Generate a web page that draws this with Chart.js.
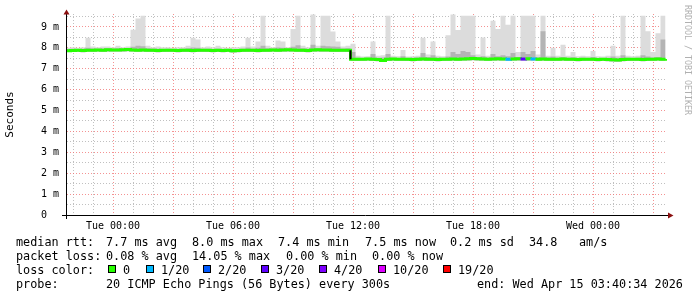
<!DOCTYPE html>
<html lang="en">
<head>
<meta charset="UTF-8">
<title>SmokePing latency</title>
<script src="https://cdn.jsdelivr.net/npm/chart.js@4"></script>
<style>
  body { margin: 0; background: #fff; }
  #wrap { position: relative; width: 697px; height: 297px; font-family: 'DejaVu Sans Mono', monospace; overflow: hidden; }
  #wrap canvas { position: absolute; left: 0; top: 0; }
  .txt { position: absolute; font-size: 11.8px; line-height: 14px; white-space: pre; color: #000; }
  .sq { position: absolute; width: 8px; height: 8px; box-sizing: border-box; border: 1px solid #000; }
  #credit { position: absolute; left: 683px; top: 5px; writing-mode: vertical-rl; font-size: 8.3px; line-height: 10px; color: #b0b0b0; white-space: pre; }
</style>
</head>
<body>
<div id="wrap">
  <canvas id="chart" width="697" height="297"></canvas>
  <div id="credit">RRDTOOL / TOBI OETIKER</div>
</div>

<script>
  // sample times, hours relative to Tue 00:00 (one value every 15 min,
  // each value covers the 15 min that follow its time stamp)
  const times = [];
  for (let i = 0; i < 121; i++) times.push(-2.375 + i * 0.25);

  // median rtt in ms
  const median = [
    7.86, 7.87, 7.88, 7.87, 7.89, 7.88, 7.90, 7.89, 7.91, 7.90,
    7.90, 7.91, 7.92, 7.90, 7.89, 7.90, 7.89, 7.88, 7.87, 7.88,
    7.89, 7.88, 7.87, 7.88, 7.88, 7.87, 7.88, 7.89, 7.88, 7.87,
    7.88, 7.87, 7.88, 7.86, 7.87, 7.88, 7.89, 7.88, 7.87, 7.88,
    7.89, 7.90, 7.89, 7.90, 7.91, 7.90, 7.89, 7.88, 7.87, 7.90,
    7.91, 7.90, 7.90, 7.89, 7.88, 7.89, 7.88, 7.46, 7.45, 7.46,
    7.47, 7.45, 7.44, 7.40, 7.45, 7.47, 7.46, 7.46, 7.45, 7.44,
    7.46, 7.47, 7.46, 7.45, 7.44, 7.45, 7.46, 7.47, 7.46, 7.47,
    7.48, 7.49, 7.48, 7.47, 7.46, 7.47, 7.48, 7.47, 7.46, 7.47,
    7.48, 7.47, 7.48, 7.47, 7.46, 7.47, 7.46, 7.45, 7.46, 7.47,
    7.46, 7.45, 7.44, 7.45, 7.46, 7.45, 7.44, 7.45, 7.44, 7.43,
    7.42, 7.44, 7.45, 7.46, 7.45, 7.44, 7.45, 7.46, 7.47, 7.46,
    7.47
  ];

  // smoke: lowest ping, inner (dark) band top, highest ping
  const smokeLo = [
    7.80, 7.81, 7.80, 7.79, 7.82, 7.81, 7.82, 7.81, 7.83, 7.82,
    7.82, 7.83, 7.84, 7.82, 7.81, 7.82, 7.81, 7.80, 7.79, 7.80,
    7.81, 7.80, 7.79, 7.80, 7.80, 7.79, 7.80, 7.81, 7.80, 7.79,
    7.80, 7.79, 7.80, 7.78, 7.79, 7.80, 7.81, 7.80, 7.79, 7.80,
    7.81, 7.82, 7.81, 7.82, 7.83, 7.82, 7.81, 7.80, 7.79, 7.82,
    7.83, 7.82, 7.82, 7.81, 7.80, 7.81, 7.80, 7.38, 7.37, 7.38,
    7.39, 7.37, 7.36, 7.32, 7.37, 7.39, 7.38, 7.38, 7.37, 7.36,
    7.38, 7.39, 7.38, 7.37, 7.36, 7.37, 7.38, 7.39, 7.38, 7.39,
    7.40, 7.41, 7.40, 7.39, 7.38, 7.39, 7.40, 7.39, 7.38, 7.39,
    7.40, 7.39, 7.40, 7.39, 7.38, 7.39, 7.38, 7.37, 7.38, 7.39,
    7.38, 7.37, 7.36, 7.37, 7.38, 7.37, 7.36, 7.37, 7.36, 7.35,
    7.34, 7.36, 7.37, 7.38, 7.37, 7.36, 7.37, 7.38, 7.39, 7.38,
    7.39
  ];
  const smokeMid = [
    7.95, 7.96, 7.95, 7.96, 8.00, 7.97, 7.96, 7.97, 7.98, 7.97,
    7.98, 7.97, 7.98, 8.05, 8.10, 8.08, 7.98, 7.97, 7.96, 7.95,
    7.96, 7.95, 7.95, 7.96, 7.98, 8.02, 8.00, 7.96, 7.96, 7.95,
    7.96, 7.95, 7.95, 7.94, 7.95, 7.96, 8.02, 7.96, 8.00, 8.10,
    7.98, 7.97, 8.02, 8.00, 7.97, 8.05, 8.12, 7.98, 7.96, 8.15,
    7.98, 8.10, 8.08, 8.06, 8.05, 7.97, 7.98, 7.80, 7.53, 7.52,
    7.53, 7.70, 7.53, 7.54, 7.70, 7.53, 7.52, 7.60, 7.52, 7.53,
    7.54, 7.75, 7.56, 7.65, 7.54, 7.53, 7.58, 7.80, 7.70, 7.85,
    7.80, 7.65, 7.56, 7.60, 7.54, 7.70, 7.60, 7.65, 7.60, 7.75,
    7.56, 7.80, 7.70, 7.85, 7.55, 8.80, 7.54, 7.58, 7.53, 7.56,
    7.53, 7.55, 7.52, 7.53, 7.52, 7.56, 7.52, 7.51, 7.53, 7.58,
    7.53, 7.65, 7.53, 7.52, 7.53, 7.65, 7.58, 7.54, 7.56, 8.40,
    7.53
  ];
  const smokeHi = [
    8.00, 8.03, 8.00, 8.03, 8.48, 8.06, 8.03, 8.06, 8.06, 8.03,
    8.10, 8.03, 8.06, 8.87, 9.40, 9.54, 8.10, 8.03, 8.06, 8.03,
    8.03, 8.00, 8.03, 8.03, 8.10, 8.48, 8.40, 8.03, 8.06, 8.03,
    8.10, 8.03, 8.00, 8.03, 8.03, 8.06, 8.48, 8.06, 8.30, 9.54,
    8.10, 8.03, 8.35, 8.30, 8.03, 8.90, 9.54, 8.10, 8.03, 9.60,
    8.10, 9.54, 9.54, 8.78, 8.30, 8.06, 8.10, 8.20, 7.62, 7.58,
    7.60, 8.30, 7.62, 7.65, 9.54, 7.62, 7.60, 7.90, 7.58, 7.60,
    7.62, 8.48, 7.68, 8.30, 7.62, 7.60, 8.60, 9.60, 8.85, 9.54,
    9.54, 9.54, 7.68, 8.50, 7.62, 9.30, 8.90, 9.54, 9.10, 9.54,
    7.80, 9.54, 9.54, 9.54, 7.68, 9.54, 7.62, 8.00, 7.62, 8.15,
    7.62, 7.80, 7.60, 7.62, 7.60, 7.85, 7.60, 7.58, 7.62, 8.10,
    7.62, 9.54, 7.62, 7.60, 7.62, 9.54, 8.80, 7.80, 8.70, 9.54,
    7.62
  ];

  // lost pings (out of 20) at the few samples that had any
  const lossTimes = [19.625, 20.375, 20.875];
  const lossCounts = [1, 3, 1];

  const lossThresholds = [0, 1, 2, 3, 4, 10, 19];
  const lossLabels = ['0', '1/20', '2/20', '3/20', '4/20', '10/20', '19/20'];
  const lossColors = ['#26ff00', '#00b8ff', '#0059ff', '#5e00ff', '#7e00ff', '#dd00ff', '#ff0000'];

  const yTicks = [0, 0.5, 1, 1.5, 2, 2.5, 3, 3.5, 4, 4.5, 5, 5.5, 6, 6.5, 7, 7.5, 8, 8.5, 9, 9.5];
  const yLabels = ['0  ', '1 m', '2 m', '3 m', '4 m', '5 m', '6 m', '7 m', '8 m', '9 m'];
  const xTicks = [];
  for (let h = -2; h <= 27; h++) xTicks.push(h);
  const xLabelHours = [0, 6, 12, 18, 24];
  const xLabels = ['Tue 00:00', 'Tue 06:00', 'Tue 12:00', 'Tue 18:00', 'Wed 00:00'];

  // first sample after the median drop (drawn as a black step)
  const stepIndex = 57;

  function lossColor(count) {
    let c = lossColors[0];
    lossThresholds.forEach((t, i) => { if (count >= t) c = lossColors[i]; });
    return c;
  }
  function lossAt(i) {
    const k = lossTimes.indexOf(times[i]);
    return k < 0 ? 0 : lossCounts[k];
  }
  const pts = arr => times.map((t, i) => ({ x: t, y: arr[i] }));

  const axisArrows = {
    id: 'axisArrows',
    afterDraw(chart) {
      const { ctx, chartArea: a } = chart;
      ctx.save();
      ctx.strokeStyle = '#000';
      ctx.lineWidth = 1;
      ctx.beginPath();
      ctx.moveTo(a.left - 0.5, a.top);
      ctx.lineTo(a.left - 0.5, a.bottom + 4);
      ctx.moveTo(a.left - 5, a.bottom + 0.5);
      ctx.lineTo(a.right + 2, a.bottom + 0.5);
      ctx.stroke();
      ctx.fillStyle = '#8b1010';
      ctx.beginPath();
      ctx.moveTo(a.left - 0.5, a.top - 4.5);
      ctx.lineTo(a.left - 3.5, a.top + 0.5);
      ctx.lineTo(a.left + 2.5, a.top + 0.5);
      ctx.fill();
      ctx.beginPath();
      ctx.moveTo(a.right + 6.5, a.bottom + 0.5);
      ctx.lineTo(a.right + 1, a.bottom - 2.5);
      ctx.lineTo(a.right + 1, a.bottom + 3.5);
      ctx.fill();
      ctx.restore();
    }
  };

  const font = { family: "'DejaVu Sans Mono', monospace", size: 10 };

  new Chart(document.getElementById('chart'), {
    type: 'line',
    data: {
      datasets: [
        {
          label: 'step',
          data: [{ x: times[stepIndex], y: median[stepIndex - 1] }, { x: times[stepIndex], y: median[stepIndex] }],
          borderColor: '#000',
          borderWidth: 2,
          pointRadius: 0,
          order: 0
        },
        {
          label: 'median rtt',
          data: pts(median),
          stepped: 'before',
          borderWidth: 3,
          borderColor: lossColors[0],
          segment: { borderColor: c => lossColor(lossAt(c.p0DataIndex)) },
          pointRadius: 0,
          order: 1
        },
        {
          label: 'smoke lo',
          data: pts(smokeLo),
          stepped: 'before',
          borderWidth: 0,
          pointRadius: 0,
          order: 5
        },
        {
          label: 'smoke mid',
          data: pts(smokeMid),
          stepped: 'before',
          borderWidth: 0,
          pointRadius: 0,
          fill: 2,
          backgroundColor: '#b4b4b4',
          order: 3
        },
        {
          label: 'smoke hi',
          data: pts(smokeHi),
          stepped: 'before',
          borderWidth: 0,
          pointRadius: 0,
          fill: 2,
          backgroundColor: '#dcdcdc',
          order: 4
        }
      ]
    },
    options: {
      responsive: false,
      animation: false,
      events: [],
      layout: { padding: { left: 0, right: 30, top: 13, bottom: 62 } },
      plugins: { legend: { display: false }, tooltip: { enabled: false } },
      scales: {
        x: {
          type: 'linear',
          min: -2.3,
          max: 27.7,
          afterFit: s => { s.height = 20; },
          afterBuildTicks: s => { s.ticks = xTicks.map(v => ({ value: v })); },
          grid: {
            drawTicks: false,
            color: c => (c.tick && c.tick.value % 3 === 0) ? 'rgba(240,110,110,0.75)' : 'rgba(150,150,150,0.6)'
          },
          border: { display: false, dash: [1, 2] },
          ticks: {
            autoSkip: false,
            maxRotation: 0,
            padding: 5,
            color: '#000',
            font,
            callback: v => { const k = xLabelHours.indexOf(v); return k < 0 ? '' : xLabels[k]; }
          }
        },
        y: {
          min: 0,
          max: 9.62,
          afterFit: s => { s.width = 67; },
          afterBuildTicks: s => { s.ticks = yTicks.map(v => ({ value: v })); },
          grid: {
            drawTicks: false,
            color: c => (c.tick && c.tick.value % 1 === 0) ? 'rgba(240,110,110,0.75)' : 'rgba(150,150,150,0.6)'
          },
          border: { display: false, dash: [1, 2] },
          title: {
            display: true,
            text: 'Seconds',
            color: '#000',
            font: { family: "'DejaVu Sans Mono', monospace", size: 11 },
            padding: { top: 4, bottom: 0 }
          },
          ticks: {
            autoSkip: false,
            padding: 8,
            color: '#000',
            font,
            callback: v => (v % 1 === 0 ? yLabels[v] : '')
          }
        }
      }
    },
    plugins: [axisArrows]
  });

  // legend block under the plot
  const legendRows = [
    { top: 235, items: [[16, 'median rtt:'], [106, '7.7 ms avg'], [192, '8.0 ms max'], [278, '7.4 ms min'], [365, '7.5 ms now'], [450, '0.2 ms sd'], [529, '34.8'], [579, 'am/s']] },
    { top: 249, items: [[16, 'packet loss:'], [106, '0.08 % avg'], [192, '14.05 % max'], [286, '0.00 % min'], [372, '0.00 % now']] },
    { top: 263, items: [[16, 'loss color:']] },
    { top: 277, items: [[16, 'probe:'], [106, '20 ICMP Echo Pings (56 Bytes) every 300s'], [477, 'end: Wed Apr 15 03:40:34 2026']] }
  ];
  const lossSquareX = [108, 146, 203, 261, 319, 378, 443];

  const wrap = document.getElementById('wrap');
  legendRows.forEach(row => {
    row.items.forEach(([x, text]) => {
      const d = document.createElement('div');
      d.className = 'txt';
      d.style.left = x + 'px';
      d.style.top = row.top + 'px';
      d.textContent = text;
      wrap.appendChild(d);
    });
  });
  lossLabels.forEach((label, i) => {
    const s = document.createElement('div');
    s.className = 'sq';
    s.style.left = lossSquareX[i] + 'px';
    s.style.top = '265px';
    s.style.background = lossColors[i];
    wrap.appendChild(s);
    const d = document.createElement('div');
    d.className = 'txt';
    d.style.left = (lossSquareX[i] + 15) + 'px';
    d.style.top = '263px';
    d.textContent = label;
    wrap.appendChild(d);
  });
</script>
</body>
</html>
